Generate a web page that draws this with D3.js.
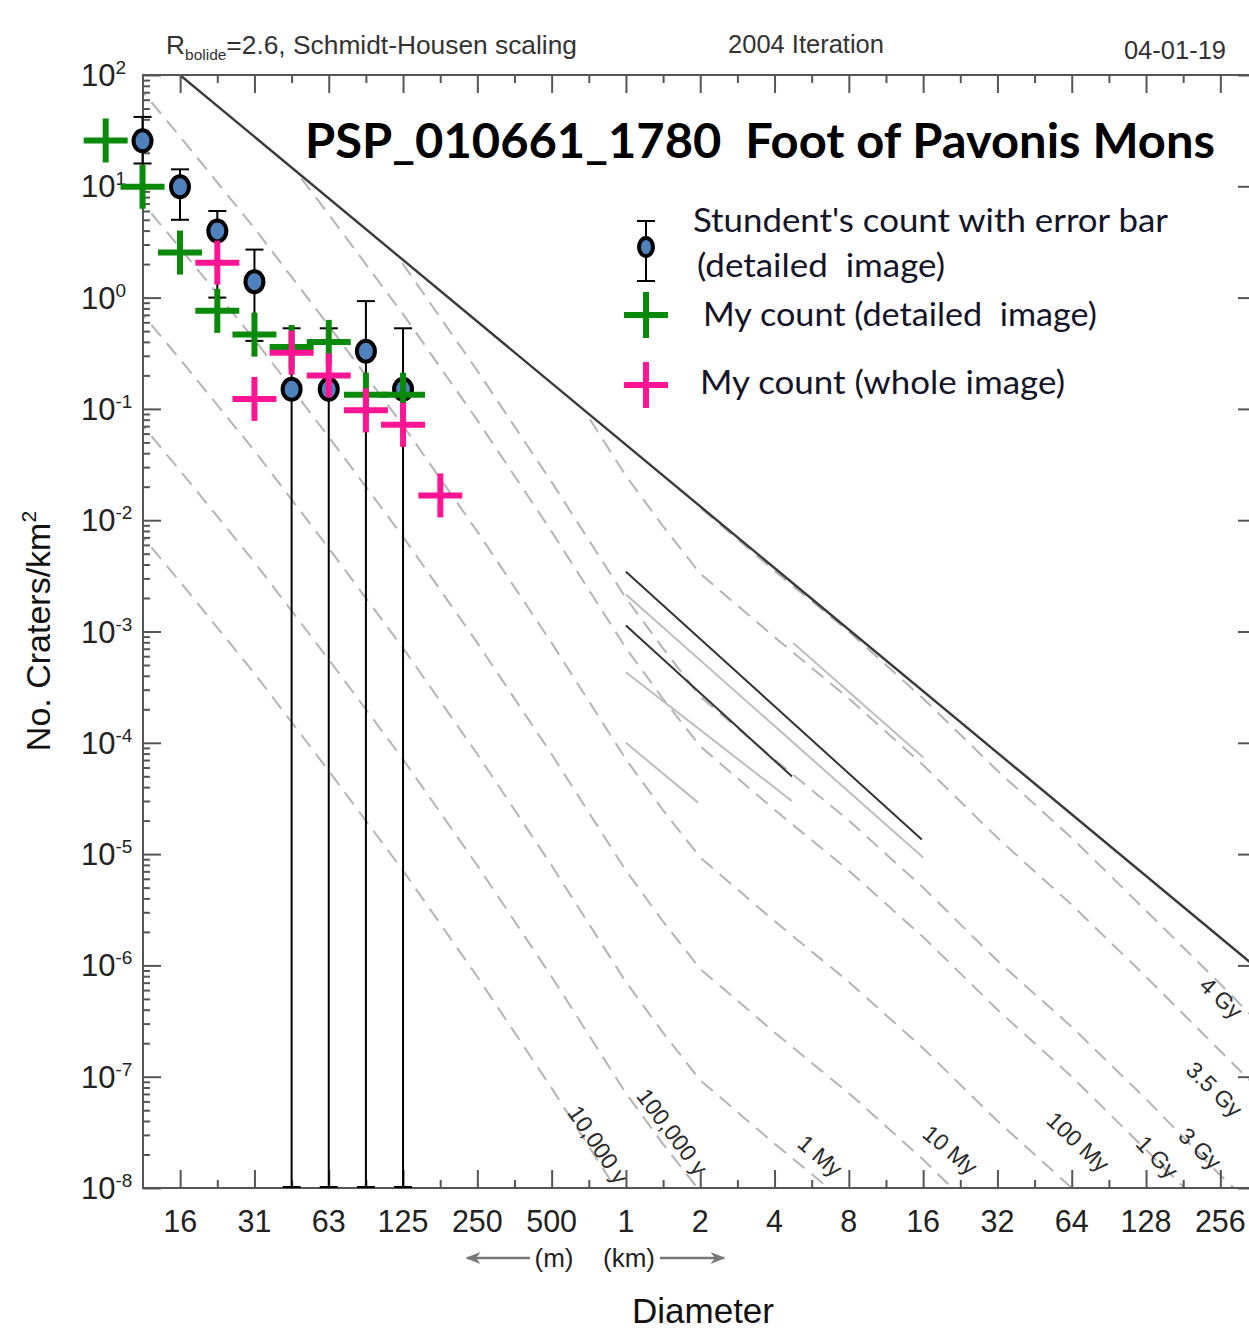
<!DOCTYPE html>
<html>
<head>
<meta charset="utf-8">
<script src="https://cdn.jsdelivr.net/npm/d3@7"></script>
<style>
  body { margin: 0; background: #fff; }
  svg { display: block; font-family: "Liberation Sans", Arial, sans-serif; }
</style>
</head>
<body>
<div id="viz"></div>
<script>
// diameters in km, crater densities in craters per km^2
const studentD  = [0.011, 0.0156, 0.0221, 0.03125, 0.0442, 0.0625, 0.0884, 0.125];
const studentN  = [25.6, 9.9, 3.97, 1.39, 0.15, 0.15, 0.33, 0.15];
const studentHi = [42, 14.2, 6.0, 2.7, 0.53, 0.53, 0.93, 0.53];
const studentLo = [15.7, 4.9, 0.98, 0.40, 1e-8, 1e-8, 1e-8, 1e-8];

const detailD = [0.0078, 0.011, 0.0156, 0.0221, 0.03125, 0.0442, 0.0625, 0.0884, 0.125];
const detailN = [25.8, 9.9, 2.54, 0.76, 0.465, 0.36, 0.40, 0.134, 0.134];

const wholeD = [0.0221, 0.03125, 0.0442, 0.0625, 0.0884, 0.125, 0.177];
const wholeN = [2.06, 0.123, 0.32, 0.20, 0.097, 0.072, 0.0167];

// saturation equilibrium (solid line)
const saturationD = [0.0156, 362];
const saturationN = [100, 9.4e-7];

// isochrons (dashed), same diameter grid for all
const isoD = [0.0078, 0.011, 0.0156, 0.03125, 0.0625, 0.125, 0.25, 0.5, 1, 1.41, 2, 4, 8, 16, 32, 64, 128, 256, 362];
const iso10ky  = [1.8e-2, 7.1e-3, 2.8e-3, 4.2e-4, 5.6e-5, 7.1e-6, 7.9e-7, 7.9e-8, 7.1e-9, 2.5e-9, 9.3e-10, 2.5e-10, 7.1e-11, 1.8e-11, 4.0e-12, 1.0e-12, 2.2e-13, 4.8e-14, 2.2e-14];
const iso100ky = [1.8e-1, 7.1e-2, 2.8e-2, 4.2e-3, 5.6e-4, 7.1e-5, 7.9e-6, 7.9e-7, 7.1e-8, 2.5e-8, 9.3e-9, 2.5e-9, 7.1e-10, 1.8e-10, 4.0e-11, 1.0e-11, 2.2e-12, 4.8e-13, 2.2e-13];
const iso1My   = [1.8, 7.1e-1, 2.8e-1, 4.2e-2, 5.6e-3, 7.1e-4, 7.9e-5, 7.9e-6, 7.1e-7, 2.5e-7, 9.3e-8, 2.5e-8, 7.1e-9, 1.8e-9, 4.0e-10, 1.0e-10, 2.2e-11, 4.8e-12, 2.2e-12];
const iso10My  = [18, 7.1, 2.8, 4.2e-1, 5.6e-2, 7.1e-3, 7.9e-4, 7.9e-5, 7.1e-6, 2.5e-6, 9.3e-7, 2.5e-7, 7.1e-8, 1.8e-8, 4.0e-9, 1.0e-9, 2.2e-10, 4.8e-11, 2.2e-11];
const iso100My = [180, 71, 28, 4.2, 5.6e-1, 7.1e-2, 7.9e-3, 7.9e-4, 7.1e-5, 2.5e-5, 9.3e-6, 2.5e-6, 7.1e-7, 1.8e-7, 4.0e-8, 1.0e-8, 2.2e-9, 4.8e-10, 2.2e-10];
const iso1Gy   = [1800, 710, 280, 42, 5.6, 7.1e-1, 7.9e-2, 7.9e-3, 7.1e-4, 2.5e-4, 9.3e-5, 2.5e-5, 7.1e-6, 1.8e-6, 4.0e-7, 1.0e-7, 2.2e-8, 4.8e-9, 2.2e-9];
const iso3Gy   = [5000, 2000, 790, 120, 16, 2.0, 2.2e-1, 2.2e-2, 2.0e-3, 7.1e-4, 2.6e-4, 7.1e-5, 2.0e-5, 5.0e-6, 1.1e-6, 2.8e-7, 6.3e-8, 1.3e-8, 6.3e-9];
const iso35Gy  = [6.3e4, 2.5e4, 1.0e4, 1.5e3, 2.0e2, 25, 2.8, 2.8e-1, 2.5e-2, 8.9e-3, 3.3e-3, 8.9e-4, 2.5e-4, 6.3e-5, 1.4e-5, 3.5e-6, 7.9e-7, 1.7e-7, 7.9e-8];
const iso4Gy   = [2.5e5, 1.0e5, 4.0e4, 5.9e3, 7.9e2, 1.0e2, 11, 1.1, 1.0e-1, 3.5e-2, 1.3e-2, 3.5e-3, 1.0e-3, 2.5e-4, 5.6e-5, 1.4e-5, 3.1e-6, 6.8e-7, 3.1e-7];

const isoNames  = ["10,000 y", "100,000 y", "1 My", "10 My", "100 My", "1 Gy", "3 Gy", "3.5 Gy", "4 Gy"];
const isoSeries = [iso10ky, iso100ky, iso1My, iso10My, iso100My, iso1Gy, iso3Gy, iso35Gy, iso4Gy];
// where each isochron label sits, and its slant
const isoLabelD = [0.771, 1.54, 6.12, 20.6, 67.9, 142, 212, 242, 258];
const isoLabelN = [2.45e-8, 3.2e-8, 1.95e-8, 2.2e-8, 2.6e-8, 1.9e-8, 2.26e-8, 7.7e-8, 5.1e-7];
const isoLabelAngle = [56, 53, 41, 40, 43, 46, 44, 44, 43];

// short solid segments around 1-16 km
const blackSegs = [
  [[1.0, 3.45e-3], [15.8, 1.35e-5]],
  [[1.0, 1.13e-3], [4.71, 4.97e-5]]
];
const greySegs = [
  [[1.0, 2.15e-3], [16, 9.3e-6]],
  [[1.0, 4.3e-4], [4.7, 3.0e-5]],
  [[1.0, 1.0e-4], [1.96, 2.9e-5]],
  [[4.76, 7.9e-4], [16, 7.4e-5]]
];

// x ticks: doublings of diameter
const xMajor = [1/64, 1/32, 1/16, 1/8, 1/4, 1/2, 1, 2, 4, 8, 16, 32, 64, 128, 256];
const xTickLabels = ["16", "31", "63", "125", "250", "500", "1", "2", "4", "8", "16", "32", "64", "128", "256"];
const yExponents = [2, 1, 0, -1, -2, -3, -4, -5, -6, -7, -8];

const W = 1249, H = 1331;
const pL = 143, pR = 1256, pT = 75, pB = 1188;
const calibriLike = "Lato, 'Open Sans', sans-serif";

const svg = d3.select("#viz").append("svg")
  .attr("width", W).attr("height", H);

const x = d3.scaleLog().base(2)
  .domain([Math.pow(2, -6.5), Math.pow(2, 8.48)])
  .range([pL, pR]);
const y = d3.scaleLog()
  .domain([1e-8, 1e2])
  .range([pB, pT]);

const defs = svg.append("defs");
defs.append("clipPath").attr("id", "plotclip")
  .append("rect").attr("x", pL).attr("y", pT)
  .attr("width", pR - pL).attr("height", pB - pT);

// region below saturation line, isochrons are only drawn there
const satPts = saturationD.map((d, i) => [x(d), y(saturationN[i])]);
const satSlope = (satPts[1][1] - satPts[0][1]) / (satPts[1][0] - satPts[0][0]);
const satClip = [[satPts[0][0] - 400, satPts[0][1] - 400 * satSlope]]
  .concat(satPts).concat([[pR + 50, pB + 50], [pL - 400, pB + 50]]);
defs.append("clipPath").attr("id", "satclip")
  .append("polygon").attr("points", satClip.map(p => p.join(",")).join(" "));

const line = d3.line().x(d => x(d[0])).y(d => y(d[1]));

// isochrons
const isoG = svg.append("g").attr("clip-path", "url(#plotclip)")
  .append("g").attr("clip-path", "url(#satclip)");
isoG.selectAll("path.iso")
  .data(isoSeries)
  .enter().append("path")
  .attr("class", "iso")
  .attr("d", s => line(s.map((n, i) => [isoD[i], n])))
  .attr("fill", "none")
  .attr("stroke", "#b4b4b4")
  .attr("stroke-width", 2)
  .attr("stroke-dasharray", "15 9");

isoG.selectAll("path.grey")
  .data(greySegs)
  .enter().append("path")
  .attr("class", "grey")
  .attr("d", line)
  .attr("fill", "none")
  .attr("stroke", "#bdbdbd")
  .attr("stroke-width", 2);

const plotG = svg.append("g").attr("clip-path", "url(#plotclip)");
plotG.selectAll("path.black")
  .data(blackSegs)
  .enter().append("path")
  .attr("class", "black")
  .attr("d", line)
  .attr("fill", "none")
  .attr("stroke", "#333")
  .attr("stroke-width", 2);

// saturation
plotG.append("path")
  .attr("d", line(saturationD.map((d, i) => [d, saturationN[i]])))
  .attr("fill", "none")
  .attr("stroke", "#3a3a3a")
  .attr("stroke-width", 2.4);

// isochron labels
svg.selectAll("text.isolab")
  .data(isoNames)
  .enter().append("text")
  .attr("class", "isolab")
  .attr("transform", (t, i) => `translate(${x(isoLabelD[i])},${y(isoLabelN[i])}) rotate(${isoLabelAngle[i]})`)
  .attr("text-anchor", "middle")
  .attr("dominant-baseline", "central")
  .attr("font-size", 23)
  .attr("fill", "#2a2a2a")
  .text(t => t);

// axes frame
const axisColor = "#555";
svg.append("rect")
  .attr("x", pL).attr("y", pT)
  .attr("width", pR - pL).attr("height", pB - pT)
  .attr("fill", "none").attr("stroke", axisColor).attr("stroke-width", 2);

const xMinor = xMajor.map(d => d * Math.SQRT2).filter(d => x(d) < pR);
const yMinor = [];
for (let e = -8; e < 2; e++) for (let k = 2; k <= 9; k++) yMinor.push(k * Math.pow(10, e));
const yMajor = yExponents.map(e => Math.pow(10, e));

function ticks(g, axis, vals, size) {
  g.call(axis.tickValues(vals).tickSize(size).tickFormat(""));
  g.select(".domain").remove();
  g.selectAll("line").attr("stroke", axisColor).attr("stroke-width", 2);
}

svg.append("g").attr("transform", `translate(0,${pB})`).call(ticks, d3.axisBottom(x), xMajor, -18);
svg.append("g").attr("transform", `translate(0,${pB})`).call(ticks, d3.axisBottom(x), xMinor, -8);
svg.append("g").attr("transform", `translate(0,${pT})`).call(ticks, d3.axisTop(x), xMajor, -18);
svg.append("g").attr("transform", `translate(0,${pT})`).call(ticks, d3.axisTop(x), xMinor, -8);
svg.append("g").attr("transform", `translate(${pL},0)`).call(ticks, d3.axisLeft(y), yMajor, -18);
svg.append("g").attr("transform", `translate(${pL},0)`).call(ticks, d3.axisLeft(y), yMinor, -7);
svg.append("g").attr("transform", `translate(${pR},0)`).call(ticks, d3.axisRight(y), yMajor, -18);
svg.append("g").attr("transform", `translate(${pR},0)`).call(ticks, d3.axisRight(y), yMinor, -7);

// x tick labels
svg.selectAll("text.xlab")
  .data(xMajor)
  .enter().append("text")
  .attr("class", "xlab")
  .attr("x", d => x(d))
  .attr("y", pB + 44)
  .attr("text-anchor", "middle")
  .attr("font-size", 30.5)
  .attr("fill", "#222")
  .text((d, i) => xTickLabels[i]);

// y tick labels: 10^e
const ylab = svg.selectAll("text.ylab")
  .data(yExponents)
  .enter().append("text")
  .attr("class", "ylab")
  .attr("x", 81)
  .attr("y", e => y(Math.pow(10, e)) + 11)
  .attr("font-size", 31)
  .attr("fill", "#222");
ylab.append("tspan").text("10");
ylab.append("tspan").attr("dy", -12).attr("font-size", 19).text(e => e);

// axis titles
svg.append("text")
  .attr("transform", "translate(50,631) rotate(-90)")
  .attr("text-anchor", "middle")
  .attr("font-size", 34)
  .attr("fill", "#111")
  .call(t => {
    t.append("tspan").text("No. Craters/km");
    t.append("tspan").attr("dy", -14).attr("font-size", 21).text("2");
  });

svg.append("text")
  .attr("x", 703).attr("y", 1323)
  .attr("text-anchor", "middle")
  .attr("font-size", 35)
  .attr("fill", "#111")
  .text("Diameter");

svg.append("text").attr("x", 554).attr("y", 1267).attr("text-anchor", "middle")
  .attr("font-size", 26).attr("fill", "#222").text("(m)");
svg.append("text").attr("x", 629).attr("y", 1267).attr("text-anchor", "middle")
  .attr("font-size", 26).attr("fill", "#222").text("(km)");

defs.append("marker").attr("id", "arr")
  .attr("viewBox", "0 0 10 10").attr("refX", 9).attr("refY", 5)
  .attr("markerWidth", 6).attr("markerHeight", 6).attr("orient", "auto")
  .append("path").attr("d", "M0,1 L10,5 L0,9 L3,5 Z").attr("fill", "#777");
svg.append("line").attr("x1", 530).attr("y1", 1258).attr("x2", 467).attr("y2", 1258)
  .attr("stroke", "#777").attr("stroke-width", 2.5).attr("marker-end", "url(#arr)");
svg.append("line").attr("x1", 660).attr("y1", 1258).attr("x2", 724).attr("y2", 1258)
  .attr("stroke", "#777").attr("stroke-width", 2.5).attr("marker-end", "url(#arr)");

// header line
const hdr = svg.append("text").attr("x", 166).attr("y", 54).attr("font-size", 25.5).attr("fill", "#333")
  .attr("textLength", 411).attr("lengthAdjust", "spacingAndGlyphs");
hdr.append("tspan").text("R");
hdr.append("tspan").attr("dy", 6).attr("font-size", 15).text("bolide");
hdr.append("tspan").attr("dy", -6).text("=2.6, Schmidt-Housen scaling");
svg.append("text").attr("x", 806).attr("y", 53).attr("text-anchor", "middle")
  .attr("font-size", 25.5).attr("fill", "#333").text("2004 Iteration");
svg.append("text").attr("x", 1226).attr("y", 59).attr("text-anchor", "end")
  .attr("font-size", 25.5).attr("fill", "#333").text("04-01-19");

// title
svg.append("text")
  .attr("x", 305).attr("y", 158)
  .style("font-family", calibriLike)
  .attr("font-weight", "bold")
  .attr("font-size", 47)
  .attr("fill", "#000")
  .attr("textLength", 910)
  .attr("lengthAdjust", "spacingAndGlyphs")
  .style("white-space", "pre")
  .text("PSP_010661_1780  Foot of Pavonis Mons");

// data: student's counts with error bars
const blue = "#4f81bd", green = "#0a8a0a", pink = "#ff1493";
const students = studentD.map((d, i) => ({d: d, n: studentN[i], lo: studentLo[i], hi: studentHi[i]}));
const errG = svg.append("g");
errG.selectAll("line.bar").data(students).enter().append("line")
  .attr("x1", s => x(s.d)).attr("x2", s => x(s.d))
  .attr("y1", s => y(s.hi)).attr("y2", s => y(s.lo))
  .attr("stroke", "#000").attr("stroke-width", 2);
errG.selectAll("line.capH").data(students).enter().append("line")
  .attr("x1", s => x(s.d) - 9).attr("x2", s => x(s.d) + 9)
  .attr("y1", s => y(s.hi)).attr("y2", s => y(s.hi))
  .attr("stroke", "#000").attr("stroke-width", 2);
errG.selectAll("line.capL").data(students).enter().append("line")
  .attr("x1", s => x(s.d) - 9).attr("x2", s => x(s.d) + 9)
  .attr("y1", s => y(s.lo) - 1).attr("y2", s => y(s.lo) - 1)
  .attr("stroke", "#000").attr("stroke-width", 2);
errG.selectAll("ellipse").data(students).enter().append("ellipse")
  .attr("cx", s => x(s.d)).attr("cy", s => y(s.n))
  .attr("rx", 9).attr("ry", 10.5)
  .attr("fill", blue).attr("stroke", "#000").attr("stroke-width", 4);

function crosses(ds, ns, color) {
  const pts = ds.map((d, i) => [x(d), y(ns[i])]);
  const g = svg.append("g").attr("stroke", color).attr("stroke-width", 6);
  g.selectAll("line.h").data(pts).enter().append("line")
    .attr("x1", p => p[0] - 22).attr("x2", p => p[0] + 22)
    .attr("y1", p => p[1]).attr("y2", p => p[1]);
  g.selectAll("line.v").data(pts).enter().append("line")
    .attr("x1", p => p[0]).attr("x2", p => p[0])
    .attr("y1", p => p[1] - 22).attr("y2", p => p[1] + 22);
}
crosses(detailD, detailN, green);
crosses(wholeD, wholeN, pink);

// legend
const lg = svg.append("g");
lg.append("line").attr("x1", 646).attr("x2", 646).attr("y1", 221).attr("y2", 281).attr("stroke", "#000").attr("stroke-width", 2);
lg.append("line").attr("x1", 637).attr("x2", 655).attr("y1", 221).attr("y2", 221).attr("stroke", "#000").attr("stroke-width", 2);
lg.append("line").attr("x1", 637).attr("x2", 655).attr("y1", 281).attr("y2", 281).attr("stroke", "#000").attr("stroke-width", 2);
lg.append("ellipse").attr("cx", 646).attr("cy", 247).attr("rx", 7).attr("ry", 9)
  .attr("fill", blue).attr("stroke", "#000").attr("stroke-width", 4);
[[315, green], [385, pink]].forEach(([cy, c]) => {
  lg.append("line").attr("x1", 624).attr("x2", 668).attr("y1", cy).attr("y2", cy).attr("stroke", c).attr("stroke-width", 6);
  lg.append("line").attr("x1", 646).attr("x2", 646).attr("y1", cy - 23).attr("y2", cy + 23).attr("stroke", c).attr("stroke-width", 6);
});
const legText = [
  {t: "Stundent's count with error bar", x: 693, y: 232, w: 475},
  {t: "(detailed  image)", x: 697, y: 277, w: 248},
  {t: "My count (detailed  image)", x: 703, y: 326, w: 394},
  {t: "My count (whole image)", x: 700, y: 394, w: 365}
];
lg.selectAll("text").data(legText).enter().append("text")
  .attr("x", l => l.x).attr("y", l => l.y)
  .style("font-family", calibriLike)
  .attr("font-size", 32)
  .attr("fill", "#141428")
  .attr("textLength", l => l.w)
  .attr("lengthAdjust", "spacingAndGlyphs")
  .style("white-space", "pre")
  .text(l => l.t);
</script>
</body>
</html>
